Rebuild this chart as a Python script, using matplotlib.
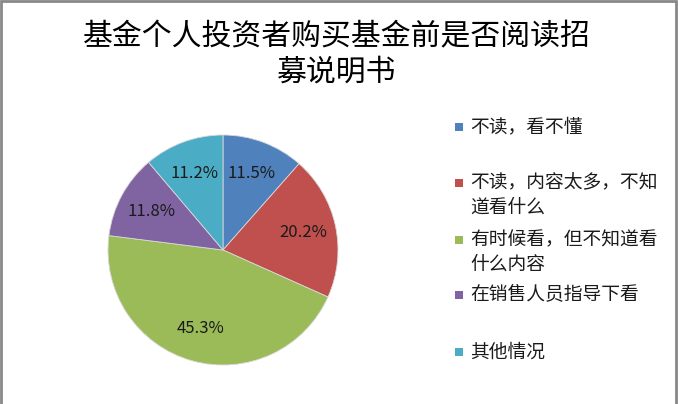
import matplotlib
matplotlib.use("Agg")
import matplotlib.pyplot as plt
from matplotlib.patches import Rectangle

plt.rcParams['font.family'] = ['Noto Sans CJK SC', 'DejaVu Sans']

# data
labels = ['不读，看不懂', '不读，内容太多，不知\n道看什么', '有时候看，但不知道看\n什么内容',
          '在销售人员指导下看', '其他情况']
shares = [11.5, 20.2, 45.3, 11.8, 11.2]
colors = ['#4F81BD', '#C0504D', '#9BBB59', '#8064A2', '#4BACC6']
title_lines = ['基金个人投资者购买基金前是否阅读招', '募说明书']

W, H = 678, 404
fig = plt.figure(figsize=(W / 100, H / 100), dpi=100)
fig.patch.set_facecolor('white')

# pie: center (223, 250) px, radius 115 px
cx, cy, r = 223, 250, 115
ax = fig.add_axes([(cx - r) / W, (H - cy - r) / H, 2 * r / W, 2 * r / H])
wedges, texts, autotexts = ax.pie(
    shares, colors=colors, startangle=90, counterclock=False,
    autopct='%1.1f%%', pctdistance=0.71, radius=1,
    wedgeprops=dict(edgecolor='#d8d8d8', linewidth=0.6),
    textprops=dict(fontsize=12, color='#1a1a1a'))
ax.set_xlim(-1, 1)
ax.set_ylim(-1, 1)
ax.set_aspect('equal')
ax.axis('off')

# title
fig.text(337 / W, 1 - 37 / H, title_lines[0], ha='center', va='center', fontsize=21.5, color='black')
fig.text(337 / W, 1 - 72 / H, title_lines[1], ha='center', va='center', fontsize=21.5, color='black')

# legend, placed by hand like the Excel layout
row_y = [127, 183, 240, 295, 352]
line_gap = 24
for lab, col, y in zip(labels, colors, row_y):
    fig.patches.append(Rectangle((455 / W, 1 - (y + 4) / H), 8 / W, 8 / H,
                                 transform=fig.transFigure, facecolor=col, edgecolor='none'))
    for i, part in enumerate(lab.split('\n')):
        fig.text(470 / W, 1 - (y + i * line_gap) / H, part, ha='left', va='center',
                 fontsize=13.5, color='#1a1a1a')

# grey frame of the screenshot
fig.patches.append(Rectangle((1 / W, -0.05), (W - 3) / W, 1.05 - 1 / H,
                             transform=fig.transFigure, facecolor='none',
                             edgecolor='#888888', linewidth=2))

fig.savefig('out.png', dpi=100)
